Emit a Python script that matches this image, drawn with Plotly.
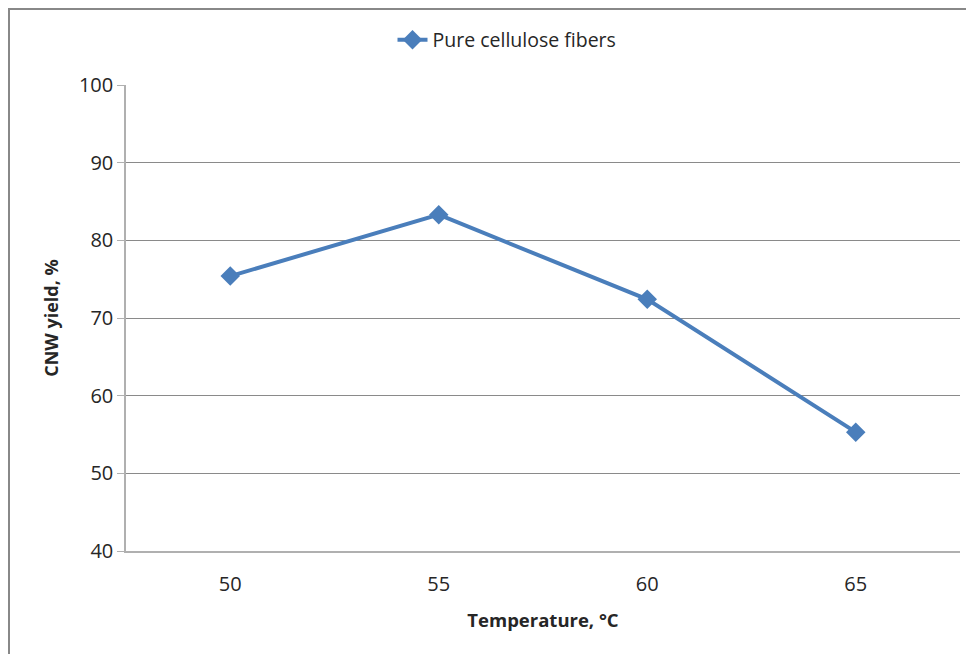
import plotly.graph_objects as go

temperature = ["50", "55", "60", "65"]
cnw_yield = [75.4, 83.3, 72.4, 55.3]
y_ticks = [40, 50, 60, 70, 80, 90, 100]

# the page puts the figure 8px in from the top-left corner
OFF = 8
W, H = 974, 654
L, R, T, B = 118, 22, 77, 111
pw, ph = W - L - R, H - T - B

def px(x):
    return (x - OFF - L) / pw

def py(y):
    return 1 - (y - OFF - T) / ph

font = "Open Sans"

fig = go.Figure()
fig.add_trace(go.Scatter(
    x=temperature, y=cnw_yield, mode="lines+markers", name="Pure cellulose fibers",
    line=dict(color="#4a7ebb", width=4),
    marker=dict(symbol="diamond", size=15, color="#4a7ebb"),
))

# chart border like the spreadsheet frame
fig.add_shape(type="rect", xref="paper", yref="paper",
              x0=px(OFF + 1), x1=px(990), y0=py(670), y1=py(OFF + 1),
              line=dict(color="#888888", width=2), layer="below")

fig.update_layout(
    width=W, height=H,
    margin=dict(l=L, r=R, t=T, b=B, autoexpand=False),
    paper_bgcolor="white", plot_bgcolor="white",
    font=dict(family=font, size=20, color="#262626"),
    showlegend=True,
    legend=dict(orientation="h", x=px(507), xanchor="center", y=py(40), yanchor="middle",
                font=dict(size=19.5), bgcolor="rgba(0,0,0,0)"),
    xaxis=dict(type="category", range=[-0.5, 3.5], showgrid=False, automargin=False,
               showline=True, linecolor="#b0b0b0", linewidth=1.5,
               ticks="", ticklabelstandoff=14, tickfont=dict(size=20),
               title=dict(text="<b>Temperature, °C</b>", font=dict(size=18.5), standoff=18)),
    yaxis=dict(range=[40, 100], tickvals=y_ticks, showgrid=True, gridcolor="#8a8a8a", gridwidth=1,
               showline=True, linecolor="#b0b0b0", linewidth=1.5, automargin=False,
               ticks="outside", ticklen=7, tickcolor="#b0b0b0", tickfont=dict(size=20),
               zeroline=False,
               title=dict(text="<b>CNW yield, %</b>", font=dict(size=18), standoff=16)),
)

fig.write_html("out.html")
